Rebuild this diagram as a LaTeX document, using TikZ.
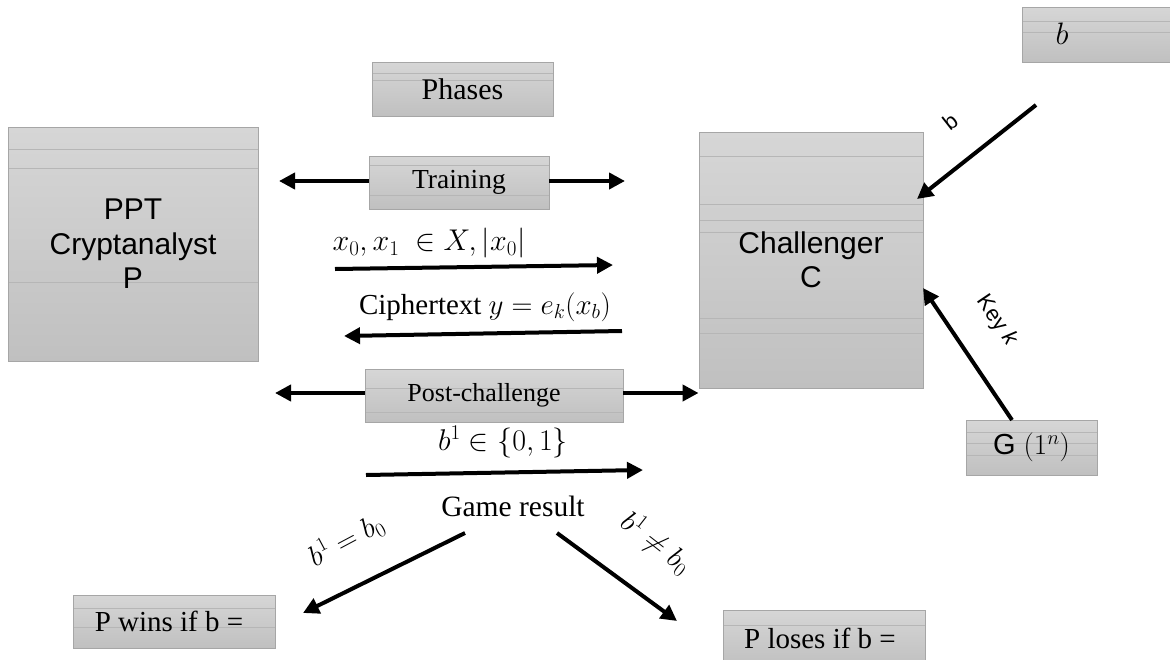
\RequirePackage{fix-cm}
\documentclass[tikz,border=0pt]{standalone}
\usepackage{fontspec}
\setmainfont{Liberation Serif}
\setsansfont{Liberation Sans}
\usetikzlibrary{arrows.meta,calc}

\definecolor{boxtop}{HTML}{D6D6D6}
\definecolor{boxbot}{HTML}{C0C0C0}
\definecolor{boxedge}{HTML}{A6A6A6}
\definecolor{stripe}{HTML}{B6B6B6}

\newcommand{\fs}[1]{\fontsize{#1}{1.15\dimexpr#1pt\relax}\selectfont}

\tikzset{
  band/.style={draw=stripe, line width=0.8pt},
  box/.style={draw=boxedge, line width=0.9pt, top color=boxtop, bottom color=boxbot,
              inner sep=0pt, align=center},
  % faint horizontal bands, given as offsets from the top edge
  bands/.style={path picture={
      \foreach \yy in {#1}
        \draw[band] ($(path picture bounding box.north west)+(0,\yy)$)
                 -- ($(path picture bounding box.north east)+(0,\yy)$);}},
  serif/.style={font=\fs{29.5}},
  mathlbl/.style={font=\fs{29}},
  sanstext/.style={font=\sffamily\fs{30}},
  flow/.style={line width=4pt, -{Triangle[length=16pt,width=16pt]}},
}

\begin{document}
\begin{tikzpicture}[x=1pt,y=-1pt]
\useasboundingbox (0,0) rectangle (1170,659);

% --- boxes -------------------------------------------------------------
\node[box, sanstext, bands={22,41,155}, minimum width=250pt, minimum height=234pt]
  (P) at (133,244) {PPT\\Cryptanalyst\\P};
\node[box, sanstext, bands={24,72,88,100,186,201}, minimum width=224pt, minimum height=256pt]
  (C) at (811,260) {Challenger\\C};
\node[box, bands={14,25}, minimum width=160pt, minimum height=55pt] (B) at (1102,34.5) {};
\node[font=\fs{31}] (bval) at (1062,34) {$b$};
\node[box, font=\fs{30}, bands={11,18}, minimum width=181pt, minimum height=54pt]
  (phases) at (462.5,89) {Phases};
\node[box, font=\fs{27.5}, bands={9,39}, minimum width=180pt, minimum height=53pt]
  (train) at (459,182.5) {Training};
\node[box, font=\fs{26}, bands={19,43}, minimum width=258pt, minimum height=53pt]
  (post) at (494,395.5) {\hspace*{-20pt}Post-challenge};
\node[box, bands={12,23,35}, minimum width=131pt, minimum height=55pt] (G) at (1031.5,447.5)
  {\sffamily\fs{29}G \fs{29}$(1^{n})$};
\node[box, font=\fs{29}, bands={13,32}, minimum width=202pt, minimum height=53pt]
  (win) at (174,621.5) {\hspace*{-10pt}P wins if b =};
\node[box, font=\fs{29}, bands={15}, minimum width=202pt, minimum height=56pt]
  (lose) at (824,638) {\hspace*{-8pt}P loses if b =};
\node[serif] (game) at (513,506) {Game result};

% --- connector end points ----------------------------------------------
\coordinate (trL) at (279,181);
\coordinate (trR) at (625,181);
\coordinate (pcL) at (275,393);
\coordinate (xs) at (335,269);
\coordinate (xe) at (613,265);
\coordinate (cs) at (622,331);
\coordinate (ce) at (344,336);
\coordinate (bs) at (366,475);
\coordinate (be) at (643,470);
\coordinate (gl) at (465,533);
\coordinate (gr) at (557,533);
\coordinate (wl) at (303,613);
\coordinate (lr) at (677,621);
\coordinate (bin) at (1036,105);
\coordinate (bC) at (917,199);
\coordinate (kG) at (1012,420);
\coordinate (kC) at (923,288);

% --- phase arrows ------------------------------------------------------
\draw[flow] (train.west |- trL) -- (trL);
\draw[flow] (train.east |- trR) -- (trR);
\draw[flow] (post.west |- pcL) -- (pcL);
\draw[flow] (post.east |- pcL) -- (C.west |- pcL);

% --- messages ----------------------------------------------------------
\draw[flow] (xs) -- (xe);
\node[font=\fs{30}] (xlab) at (429,243) {$x_0, x_1\ \in X, |x_0|$};
\draw[flow] (cs) -- (ce);
\node[font=\fs{29}] (clab) at (485,307) {Ciphertext $y = e_k(x_b)$};
\draw[flow] (bs) -- (be);
\node[font=\fs{30}] (blab) at (503,442) {$b^1 \in \{0,1\}$};

% --- game result -------------------------------------------------------
\draw[flow] (gl) -- (wl);
\node[mathlbl, rotate=28] (eqlab) at (346,540) {$b^1 = b_0$};
\draw[flow] (gr) -- (lr);
\node[mathlbl, rotate=-38] (nelab) at (656,543) {$b^1 \neq b_0$};

% --- inputs to the challenger ------------------------------------------
\draw[flow] (bin) -- (bC);
\node[font=\sffamily\fs{22}, rotate=38] (blbl) at (950,122) {b};
\draw[flow] (kG) -- (kC);
\node[font=\sffamily\fs{22}, rotate=-56] (klbl) at (997,321) {Key \textit{k}};
\end{tikzpicture}
\end{document}
